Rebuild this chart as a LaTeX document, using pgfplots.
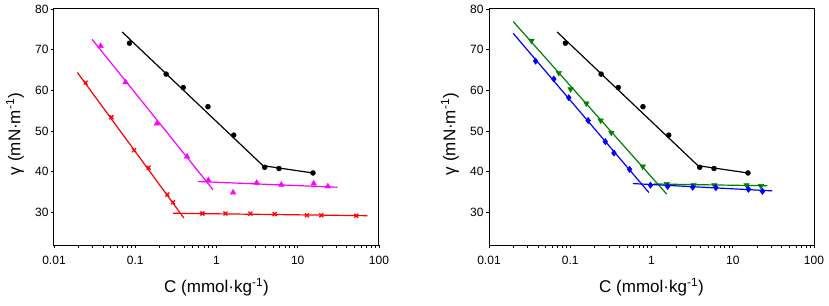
\documentclass[border=0pt]{standalone}
\usepackage{pgfplots}
\pgfplotsset{compat=1.18}
\usepackage{fontspec}
\setmainfont{Liberation Sans}
\definecolor{cblack}{RGB}{0,0,0}
\definecolor{cred}{RGB}{255,0,0}
\definecolor{cmag}{RGB}{255,0,255}
\definecolor{cgreen}{RGB}{0,128,0}
\definecolor{cblue}{RGB}{0,0,255}
\pgfplotsset{
  myln/.style={line width=1.2pt, mark=none},
  mymk/.style={only marks, mark size=2.5pt},
}
\begin{document}
\begin{tikzpicture}
\useasboundingbox (0,0) rectangle (829pt,305pt);
\begin{axis}[
    scale only axis,
    width=325pt, height=236pt,
    xmode=log, xmin=0.01, xmax=100,
    ymin=22, ymax=80,
    xtick={0.01,0.1,1,10,100},
    xticklabels={0.01,0.1,1,10,100},
    ytick={30,40,50,60,70,80},
    minor xtick={},
    xtick pos=bottom, ytick pos=left,
    tick align=outside,
    major tick length=3pt,
    axis line style={line width=1pt},
    tick style={line width=0.8pt, black},
    /pgf/number format/assume math mode=true,
    tick label style={font=\fontsize{12}{14}\selectfont},
    xticklabel style={yshift=-5pt},
    yticklabel style={xshift=1pt},
    label style={font=\fontsize{17}{20}\selectfont},
    xlabel={C (mmol·kg\textsuperscript{-1})},
    ylabel={γ (mN·m\textsuperscript{-1})},
    xlabel style={at={(axis description cs:0.5,-0.178)}, anchor=center},
    ylabel style={at={(axis description cs:-0.12,0.47)}, anchor=center, rotate=0},
    clip=false,
    at={(54pt,60pt)}, anchor=south west]
\addplot[cblack, myln] coordinates {(0.069,74.35) (3.73,41.5) (15.4,39.7)};
\addplot[cblack, mymk, mark=*] coordinates {(0.085,71.6) (0.24,64.0) (0.39,60.7) (0.785,56.0) (1.63,49.0) (3.92,41.1) (5.88,40.8) (15.4,39.7)};
\addplot[cmag, myln] coordinates {(0.0294,72.55) (0.906,35.6)};
\addplot[cmag, myln] coordinates {(0.59,37.6) (30.7,36.2)};
\addplot[cmag, mymk, mark=triangle*, mark size=3.2pt] coordinates {(0.0375,70.9) (0.076,62.0) (0.185,51.85) (0.434,43.75) (0.794,37.9) (1.60,34.9) (3.12,37.3) (6.28,36.8) (15.7,37.1) (23.5,36.4)};
\addplot[cred, myln] coordinates {(0.0194,64.4) (0.398,28.6)};
\addplot[cred, myln] coordinates {(0.292,29.8) (71.8,29.2)};
\addplot[cred, mymk, mark=x, mark size=2.8pt, mark options={line width=1.3pt}] coordinates {(0.0245,61.9) (0.0508,53.4) (0.0966,45.3) (0.146,41.0) (0.248,34.4) (0.292,32.5) (0.67,29.75) (1.29,29.75) (2.61,29.7) (5.2,29.6) (13.0,29.3) (19.5,29.3) (52.6,29.2)};
\end{axis}
\begin{axis}[
    scale only axis,
    width=325pt, height=236pt,
    xmode=log, xmin=0.01, xmax=100,
    ymin=22, ymax=80,
    xtick={0.01,0.1,1,10,100},
    xticklabels={0.01,0.1,1,10,100},
    ytick={30,40,50,60,70,80},
    minor xtick={},
    xtick pos=bottom, ytick pos=left,
    tick align=outside,
    major tick length=3pt,
    axis line style={line width=1pt},
    tick style={line width=0.8pt, black},
    /pgf/number format/assume math mode=true,
    tick label style={font=\fontsize{12}{14}\selectfont},
    xticklabel style={yshift=-5pt},
    yticklabel style={xshift=1pt},
    label style={font=\fontsize{17}{20}\selectfont},
    xlabel={C (mmol·kg\textsuperscript{-1})},
    ylabel={γ (mN·m\textsuperscript{-1})},
    xlabel style={at={(axis description cs:0.5,-0.178)}, anchor=center},
    ylabel style={at={(axis description cs:-0.12,0.47)}, anchor=center, rotate=0},
    clip=false,
    at={(489pt,60pt)}, anchor=south west]
\addplot[cblack, myln] coordinates {(0.069,74.35) (3.73,41.5) (15.4,39.7)};
\addplot[cblack, mymk, mark=*] coordinates {(0.087,71.6) (0.24,64.0) (0.39,60.7) (0.785,56.0) (1.63,49.0) (3.92,41.1) (5.88,40.8) (15.4,39.7)};
\addplot[cgreen, myln] coordinates {(0.0199,76.9) (1.54,34.5)};
\addplot[cgreen, myln] coordinates {(1.07,37.0) (26.7,36.55)};
\addplot[cgreen, mymk, mark=triangle*, mark size=3.2pt, mark options={rotate=180}] coordinates {(0.0334,72.2) (0.0723,64.3) (0.101,60.3) (0.158,56.8) (0.237,52.6) (0.32,49.6) (0.78,41.3) (1.54,37.0) (3.30,36.7) (5.93,36.7) (14.8,36.7) (22.2,36.5)};
\addplot[cblue, myln] coordinates {(0.0199,74.0) (0.927,34.9)};
\addplot[cblue, myln] coordinates {(0.59,37.1) (30.8,35.3)};
\addplot[cblue, mymk, mark=diamond*, mark size=3.2pt] coordinates {(0.0374,67.2) (0.0628,62.8) (0.096,58.2) (0.166,52.6) (0.27,47.4) (0.345,44.6) (0.537,40.6) (0.97,36.7) (1.58,36.4) (3.21,36.2) (6.2,36.1) (15.6,35.7) (23.2,35.2)};
\end{axis}
\end{tikzpicture}
\end{document}
